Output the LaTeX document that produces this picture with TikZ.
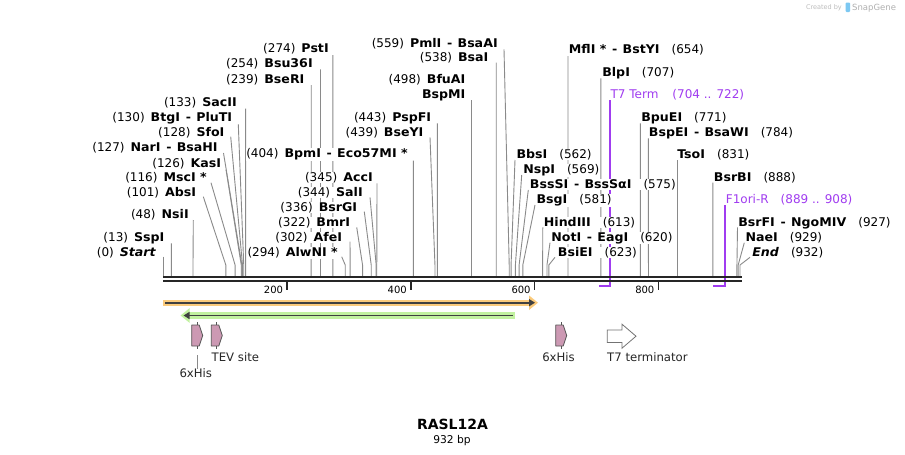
\documentclass[tikz,border=0pt]{standalone}
\usepackage{fontspec}
\setmainfont{DejaVu Sans}
\usetikzlibrary{arrows.meta}
\pgfdeclarelayer{bg}
\pgfsetlayers{bg,main}
\definecolor{leadgray}{HTML}{8A8A8A}
\definecolor{mapblack}{HTML}{262626}
\definecolor{purp}{HTML}{A03CF0}
\definecolor{orhalo}{HTML}{FBCB7C}
\definecolor{grhalo}{HTML}{C2F2A0}
\definecolor{coreline}{HTML}{404040}
\definecolor{featpink}{HTML}{CC99B3}
\definecolor{featedge}{HTML}{555555}
\definecolor{wmgray}{HTML}{BDBDBD}
\definecolor{wmblue}{HTML}{7CC8F2}

\newcommand\bpx[1]{163.3+0.6188*#1}
\newcommand\dd{\hspace{5.5pt}-\hspace{5pt}}
\newcommand\Bx[1]{\scalebox{1.05}[1]{\textbf{#1}}}
\newcommand\Ln[2]{(#1)\hspace{6pt}\Bx{#2}}
\newcommand\Rn[2]{\Bx{#1}\hspace{12pt}(#2)}

\tikzset{
  lab/.style={font=\fontsize{12}{14}\selectfont, inner sep=0.4pt, text=black, fill=white},
  ticklab/.style={font=\fontsize{10}{12}\selectfont, inner sep=0pt, text=black},
  featlab/.style={font=\fontsize{11.7}{14}\selectfont, inner sep=0pt, text=black!85},
  leader/.style={draw=leadgray, line width=0.9pt},
  purpline/.style={draw=purp, line width=2pt},
  mainline/.style={draw=mapblack},
  tickmark/.style={draw=mapblack, line width=1.6pt},
  pentfeat/.style={fill=featpink, draw=featedge, line width=0.8pt, line join=round},
  stub/.style={draw=featedge, line width=0.8pt},
}

% left-hand label: id, right x, centre y, number, name, start x, start y
\newcommand\LS[7]{%
  \node[lab, anchor=base east] (#1) at (#2,{#3+4.4}) {\Ln{#4}{#5}};
  \coordinate (#1-s) at (#6,#7);
  \coordinate (#1-k) at ({\bpx{#4}},265);
  \coordinate (#1-p) at ({\bpx{#4}},276);
  \begin{pgfonlayer}{bg}\draw[leader] (#1-s) -- (#1-k) -- (#1-p);\end{pgfonlayer}
}
% right-hand label: id, left x, centre y, name, number, start x, start y
\newcommand\RS[7]{%
  \node[lab, anchor=base west] (#1) at (#2,{#3+4.4}) {\Rn{#4}{#5}};
  \coordinate (#1-s) at (#6,#7);
  \coordinate (#1-k) at ({\bpx{#5}},265);
  \coordinate (#1-p) at ({\bpx{#5}},276);
  \begin{pgfonlayer}{bg}\draw[leader] (#1-s) -- (#1-k) -- (#1-p);\end{pgfonlayer}
}

\begin{document}
\begin{tikzpicture}[x=1pt,y=-1pt]
\begin{pgfonlayer}{bg}
\useasboundingbox (0,0) rectangle (905,455);
\fill[white] (0,0) rectangle (905,455);
\end{pgfonlayer}

% watermark
\node[inner sep=0pt, anchor=base east, text=wmgray, font=\fontsize{6.5}{8}\selectfont] (wm1) at (842,9.5) {Created by};
\fill[wmblue, rounded corners=1pt] (845.5,2.5) rectangle (850,12);
\node[inner sep=0pt, anchor=base west, text=wmgray!120, font=\fontsize{8.5}{10}\selectfont] (wm2) at (852,10.5) {SnapGene};

% ---- left-hand enzyme labels
\LS{start}{156.7}{251.7}{0}{\textit{Start}}{163.3}{256.7}
\LS{ssp}{165}{236.7}{13}{SspI}{171.3}{243.3}
\LS{nsi}{189.3}{214}{48}{NsiI}{193.3}{220}
\LS{abs}{196.7}{191.7}{101}{AbsI}{203.3}{196.7}
\LS{msc}{207.3}{176.7}{116}{MscI *}{211}{182.7}
\LS{kas}{221.7}{162.7}{126}{KasI}{226}{169.5}
\LS{nar}{218.3}{146.7}{127}{NarI\dd BsaHI}{223.5}{153}
\LS{sfo}{225}{131.7}{128}{SfoI}{230.7}{136.7}
\LS{btg}{232.7}{117.3}{130}{BtgI\dd PluTI}{238.3}{124.3}
\LS{sac}{237.3}{101.7}{133}{SacII}{245.6}{108.7}
\LS{bseri}{305}{79.3}{239}{BseRI}{311.2}{85}
\LS{bsu}{313.3}{63.3}{254}{Bsu36I}{320.5}{69.3}
\LS{pst}{329.3}{48.3}{274}{PstI}{332.8}{55}
\LS{bpm}{408.3}{153.3}{404}{BpmI\dd Eco57MI *}{413.3}{160.7}
\LS{acc}{373.3}{176.7}{345}{AccI}{377}{183.3}
\LS{sal}{363.3}{191.7}{344}{SalI}{370}{197.3}
\LS{bsrg}{357.7}{206.7}{336}{BsrGI}{364.3}{211.7}
\LS{bmr}{350.7}{221.7}{322}{BmrI}{356.7}{227.3}
\LS{afe}{342.7}{236.7}{302}{AfeI}{350}{241.7}
\LS{alwn}{338.3}{252.3}{294}{AlwNI *}{341.7}{256.7}
\LS{pml}{498.3}{42.7}{559}{PmlI\dd BsaAI}{504}{49.3}
\LS{bsa}{489}{57.3}{538}{BsaI}{496.2}{62.7}
\LS{pspf}{431.7}{117.3}{443}{PspFI}{437.4}{123.3}
\LS{bsey}{424}{131.7}{439}{BseYI}{430}{137.3}
% BfuAI / BspMI (two lines)
\node[lab, anchor=base east] (bfua) at (466,83.7) {\Ln{498}{BfuAI}};
\node[lab, anchor=base east] (bspm) at (466,98.4) {\Bx{BspMI}};
\coordinate (bspm-s) at ({\bpx{498}},100);
\coordinate (bspm-p) at ({\bpx{498}},276);
\begin{pgfonlayer}{bg}\draw[leader] (bspm-s) -- (bspm-p);\end{pgfonlayer}

% ---- right-hand enzyme labels
\RS{bbs}{516}{154}{BbsI}{562}{515}{160}
\RS{nsp}{522.7}{169.3}{NspI}{569}{521.7}{175}
\RS{bsss}{529.3}{184}{BssSI\dd BssSαI}{575}{528.3}{190}
\RS{bsg}{536}{199.3}{BsgI}{581}{535}{205}
\RS{hind}{543.3}{221.7}{HindIII}{613}{542.8}{227.3}
\RS{not}{550.7}{236.7}{NotI\dd EagI}{620}{550}{242.7}
\RS{bsie}{557.3}{251.7}{BsiEI}{623}{555}{257.3}
\RS{mfl}{568.3}{49}{MflI *\dd BstYI}{654}{568}{56}
\RS{blp}{601.7}{72.3}{BlpI}{707}{600.8}{78.3}
\RS{bpue}{640.7}{117.3}{BpuEI}{771}{640.4}{123.3}
\RS{bspe}{648.3}{132}{BspEI\dd BsaWI}{784}{648.4}{138.3}
\RS{tso}{676.7}{154}{TsoI}{831}{677.5}{159.3}
\RS{bsrb}{713.3}{176.7}{BsrBI}{888}{712.8}{182.7}
\RS{bsrf}{737.7}{221.7}{BsrFI\dd NgoMIV}{927}{737.5}{227.3}
\RS{nae}{745}{236.7}{NaeI}{929}{744.3}{242.7}
\RS{endl}{751.7}{251.7}{\textit{End}}{932}{750}{257.3}

% ---- primer / term features (purple)
\node[lab, text=purp, anchor=base west] (t7t) at (610,98.4) {T7 Term\hspace{14pt}(704 .. 722)};
\coordinate (t7t-a) at (610.4,100);
\coordinate (t7t-b) at (610.4,285.8);
\coordinate (t7t-c) at (598.6,285.8);
\begin{pgfonlayer}{bg}\draw[purpline] (t7t-a) -- (t7t-b) -- (t7t-c);\end{pgfonlayer}
\node[lab, text=purp, anchor=base west] (f1) at (725.3,203.7) {F1ori-R\hspace{12pt}(889 .. 908)};
\coordinate (f1-a) at (725.4,205);
\coordinate (f1-b) at (725.4,285.8);
\coordinate (f1-c) at (713,285.8);
\begin{pgfonlayer}{bg}\draw[purpline] (f1-a) -- (f1-b) -- (f1-c);\end{pgfonlayer}

% ---- main sequence line
\coordinate (m1a) at (163,276.8);
\coordinate (m1b) at (741.7,276.8);
\coordinate (m2a) at (163,281);
\coordinate (m2b) at (741.7,281);
\draw[mainline, line width=2.6pt] (m1a) -- (m1b);
\draw[mainline, line width=2.3pt] (m2a) -- (m2b);

% ---- ticks
\foreach \t in {200,400,600,800}{
  \coordinate (tk\t) at ({\bpx{\t}},281);
  \coordinate (tkb\t) at ({\bpx{\t}},289.5);
  \draw[tickmark] (tk\t) -- (tkb\t);
  \node[ticklab, anchor=base east] (tl\t) at ({\bpx{\t}-3.8},293) {\t};
}

% ---- ORF arrows
\coordinate (oa) at (163,302.7);
\coordinate (ob) at (538,302.7);
\coordinate (oc) at (165,302.7);
\coordinate (od) at (535,302.7);
\draw[orhalo, line width=6pt, -{Triangle[length=9pt,width=14pt]}] (oa) -- (ob);
\draw[coreline, line width=1.8pt, -{Triangle[length=6pt,width=7pt]}] (oc) -- (od);
\coordinate (ga) at (515,315.5);
\coordinate (gb) at (180.5,315.5);
\coordinate (gc) at (513,315.5);
\coordinate (gd) at (183.5,315.5);
\draw[grhalo, line width=6.5pt, -{Triangle[length=9pt,width=14pt]}] (ga) -- (gb);
\draw[coreline, line width=1.8pt, -{Triangle[length=6pt,width=7pt]}] (gc) -- (gd);

% ---- small features
\foreach \x in {191.7,211.3,555.7}{
  \draw[pentfeat] (\x,325) -- (\x+7.5,325) -- (\x+11,335.5) -- (\x+7.5,346) -- (\x,346) -- cycle;
  \draw[stub] (\x+5.3,322) -- (\x+5.3,325);
  \draw[stub] (\x+5.3,346) -- (\x+5.3,349);
}
\draw[draw=black!55, fill=white, line width=0.8pt, line join=miter]
  (607.3,330) -- (622,330) -- (622,324.2) -- (636,336.2) -- (622,348.2) -- (622,342.4) -- (607.3,342.4) -- cycle;

\node[featlab, anchor=base] (his1) at (195.8,377.8) {6xHis};
\coordinate (his1-s) at (197,355);
\draw[leader] (his1-s) -- (his1.north -| his1-s);
\node[featlab, anchor=base west] (tev) at (211.5,361.8) {TEV site};
\node[featlab, anchor=base] (his2) at (558.5,361.8) {6xHis};
\node[featlab, anchor=base west] (t7) at (607,361.8) {T7 terminator};

% ---- title
\node[inner sep=0pt, anchor=base, font=\fontsize{14}{16}\selectfont\bfseries] (title) at (452.5,429.1) {RASL12A};
\node[inner sep=0pt, anchor=base, font=\fontsize{10.7}{12}\selectfont] (bp) at (452,443.4) {932 bp};
\end{tikzpicture}
\end{document}
